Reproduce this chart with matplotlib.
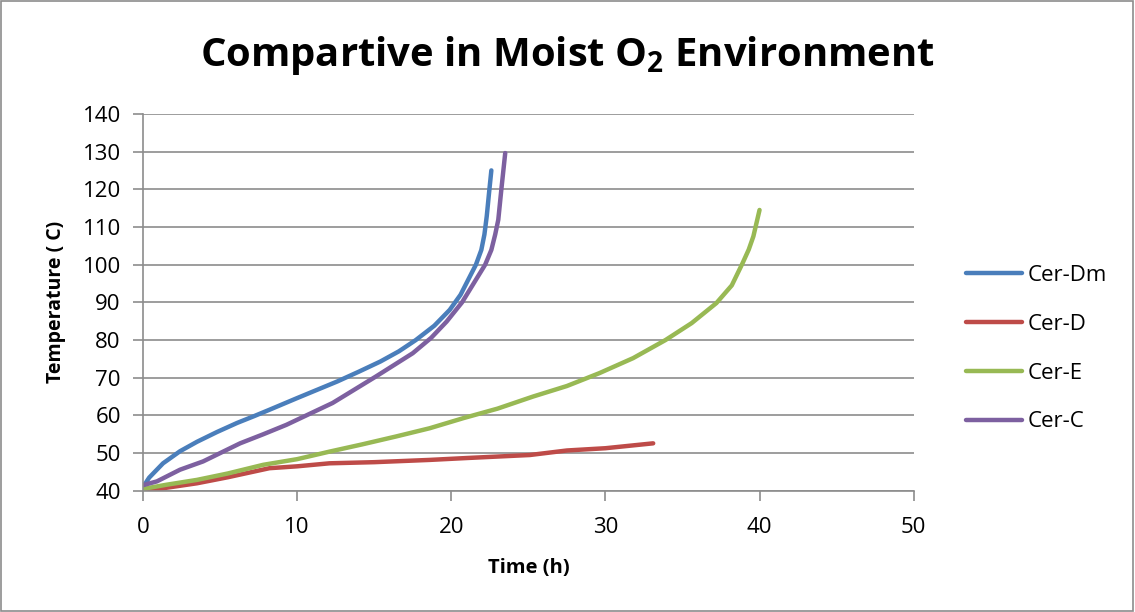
import matplotlib
matplotlib.use("Agg")
import matplotlib.pyplot as plt
from matplotlib.patches import Rectangle

plt.rcParams['font.family'] = ['Open Sans', 'DejaVu Sans']
plt.rcParams['mathtext.fontset'] = 'custom'
plt.rcParams['mathtext.rm'] = 'Open Sans'
plt.rcParams['mathtext.bf'] = 'Open Sans:bold'

# Cer-Dm
dm_t = [0, 0.4, 1.3, 2.4, 3.5, 4.8, 6.1, 7.2, 8.2, 10, 11.3, 12.6, 14, 15.4, 16.6, 17.7,
        18.9, 19.9, 20.6, 21.2, 21.6, 21.95, 22.15, 22.3, 22.45, 22.6]
dm_y = [41, 43.5, 47.3, 50.5, 53, 55.6, 58, 59.8, 61.5, 64.6, 66.8, 69, 71.6, 74.3, 77, 80,
        83.8, 88, 92, 96.8, 100, 103.9, 108, 112.8, 119, 125]

# Cer-D
d_t = [0, 1.5, 3.5, 5.5, 8.2, 10, 12.1, 15, 18.6, 21, 25.1, 27.5, 30, 33.1]
d_y = [39.8, 40.8, 42, 43.6, 46, 46.5, 47.3, 47.6, 48.2, 48.7, 49.5, 50.7, 51.3, 52.6]

# Cer-E
e_t = [0, 1.5, 3.5, 5.5, 7.8, 10, 12.1, 14.2, 16.4, 18.6, 20.8, 23, 25.3, 27.5, 29.6,
       31.8, 33.9, 35.6, 37.2, 38.2, 38.9, 39.3, 39.6, 40]
e_y = [40.5, 41.6, 42.9, 44.6, 46.9, 48.4, 50.4, 52.3, 54.4, 56.6, 59.3, 61.8, 65, 67.8, 71.2,
       75.2, 80, 84.5, 89.8, 94.5, 100.4, 104, 107.5, 114.5]

# Cer-C
c_t = [0, 0.9, 2.4, 3.9, 5.1, 6.3, 7.8, 9.3, 10.8, 12.3, 13.7, 15.1, 16.3, 17.5, 18.7, 19.7,
       20.7, 21.6, 22.2, 22.6, 22.85, 23.05, 23.25, 23.5]
c_y = [41.5, 42.5, 45.6, 47.8, 50.2, 52.6, 55, 57.5, 60.4, 63.3, 66.8, 70.3, 73.4, 76.5, 80.6,
       84.9, 90, 96, 100, 103.9, 108, 111.9, 120, 129.6]

series = [
    ("Cer-Dm", dm_t, dm_y, "#4a7ebb"),
    ("Cer-D", d_t, d_y, "#be4b48"),
    ("Cer-E", e_t, e_y, "#98b954"),
    ("Cer-C", c_t, c_y, "#7d60a0"),
]

fig = plt.figure(figsize=(11.35, 6.12), dpi=100)
ax = fig.add_axes([0.126, 0.198, 0.679, 0.616])
fig.patches.append(Rectangle((0.001, 0.001), 0.997, 0.997, transform=fig.transFigure,
                             fill=False, edgecolor="#8c8c8c", linewidth=1.2))

for name, t, y, col in series:
    ax.plot(t, y, color=col, linewidth=3.2, label=name, solid_capstyle="round")

ax.set_xlim(0, 50)
ax.set_ylim(40, 140)
ax.set_xticks(range(0, 51, 10))
ax.set_yticks(range(40, 141, 10))
ax.grid(axis="y", color="#8c8c8c", linewidth=1.2)
ax.set_axisbelow(True)
for s in ["top", "right"]:
    ax.spines[s].set_visible(False)
for s in ["left", "bottom"]:
    ax.spines[s].set_color("#8c8c8c")
    ax.spines[s].set_linewidth(1.2)
ax.tick_params(colors="#8c8c8c", labelcolor="black", labelsize=16, length=7, width=1.2)
ax.tick_params(axis="x", pad=12)
ax.tick_params(axis="y", pad=9)

ax.set_xlabel("Time (h)", fontsize=14.5, fontweight="bold", labelpad=14)
ax.set_ylabel("Temperature ( C)", fontsize=14, fontweight="bold", labelpad=12)
fig.text(0.5, 0.91, r"Compartive in Moist O$_\mathbf{2}$ Environment", ha="center", va="center",
         fontsize=28.8, fontweight="bold")

ax.legend(loc="center left", bbox_to_anchor=(1.057, 0.377), frameon=False, fontsize=16,
          handlelength=2.5, labelspacing=1.25, handletextpad=0.25, borderaxespad=0)

fig.savefig("out.png", dpi=100)
